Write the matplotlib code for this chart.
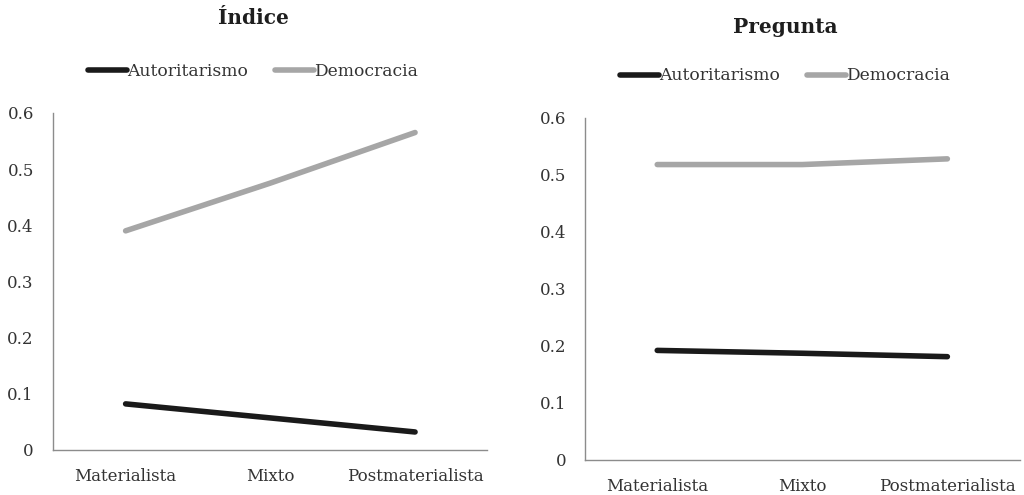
import matplotlib
matplotlib.use("Agg")
import matplotlib.pyplot as plt

categories = ["Materialista", "Mixto", "Postmaterialista"]
indice_autoritarismo = [0.082, 0.057, 0.032]
indice_democracia = [0.39, 0.475, 0.565]
pregunta_autoritarismo = [0.192, 0.187, 0.181]
pregunta_democracia = [0.518, 0.518, 0.528]
yticks = [0, 0.1, 0.2, 0.3, 0.4, 0.5, 0.6]
yticklabels = ["0", "0.1", "0.2", "0.3", "0.4", "0.5", "0.6"]

plt.rcParams['font.family'] = ['DejaVu Serif']

fig = plt.figure(figsize=(10.24, 4.95), dpi=100)
BLACK = "#1a1a1a"
GRAY = "#a6a6a6"

def panel(rect, title, auto, demo, cx, title_y, leg_y, ypad):
    ax = fig.add_axes(rect)
    x = range(len(categories))
    ax.plot(x, auto, color=BLACK, lw=4.0, solid_capstyle='round', label="Autoritarismo")
    ax.plot(x, demo, color=GRAY, lw=4.0, solid_capstyle='round', label="Democracia")
    ax.set_xlim(-0.5, 2.5)
    ax.set_ylim(0, 0.6)
    ax.set_yticks(yticks)
    ax.set_yticklabels(yticklabels)
    ax.set_xticks(list(x))
    ax.set_xticklabels(categories)
    for s in ["top", "right"]:
        ax.spines[s].set_visible(False)
    for s in ["left", "bottom"]:
        ax.spines[s].set_color("#8c8c8c")
        ax.spines[s].set_linewidth(1.0)
    ax.tick_params(length=0, labelsize=12, colors="#333333")
    ax.tick_params(axis='x', pad=13)
    ax.tick_params(axis='y', pad=ypad)
    fig.text(cx, title_y, title, ha='center', va='center', fontsize=14.5,
             fontweight='bold', color="#1e1e1e")
    ax.legend(loc='center', bbox_to_anchor=(cx, leg_y), bbox_transform=fig.transFigure,
              ncol=2, frameon=False, handlelength=2.3, handletextpad=0.0,
              columnspacing=1.6, fontsize=12.3, labelcolor="#333333")
    return ax

panel([0.052, 0.091, 0.424, 0.681], "Índice", indice_autoritarismo, indice_democracia,
      253 / 1024, 1 - 18 / 495, 1 - 71 / 495, 14)
panel([0.571, 0.071, 0.425, 0.691], "Pregunta", pregunta_autoritarismo, pregunta_democracia,
      785 / 1024, 1 - 27 / 495, 1 - 76 / 495, 13)

fig.savefig("out.png", dpi=100)
